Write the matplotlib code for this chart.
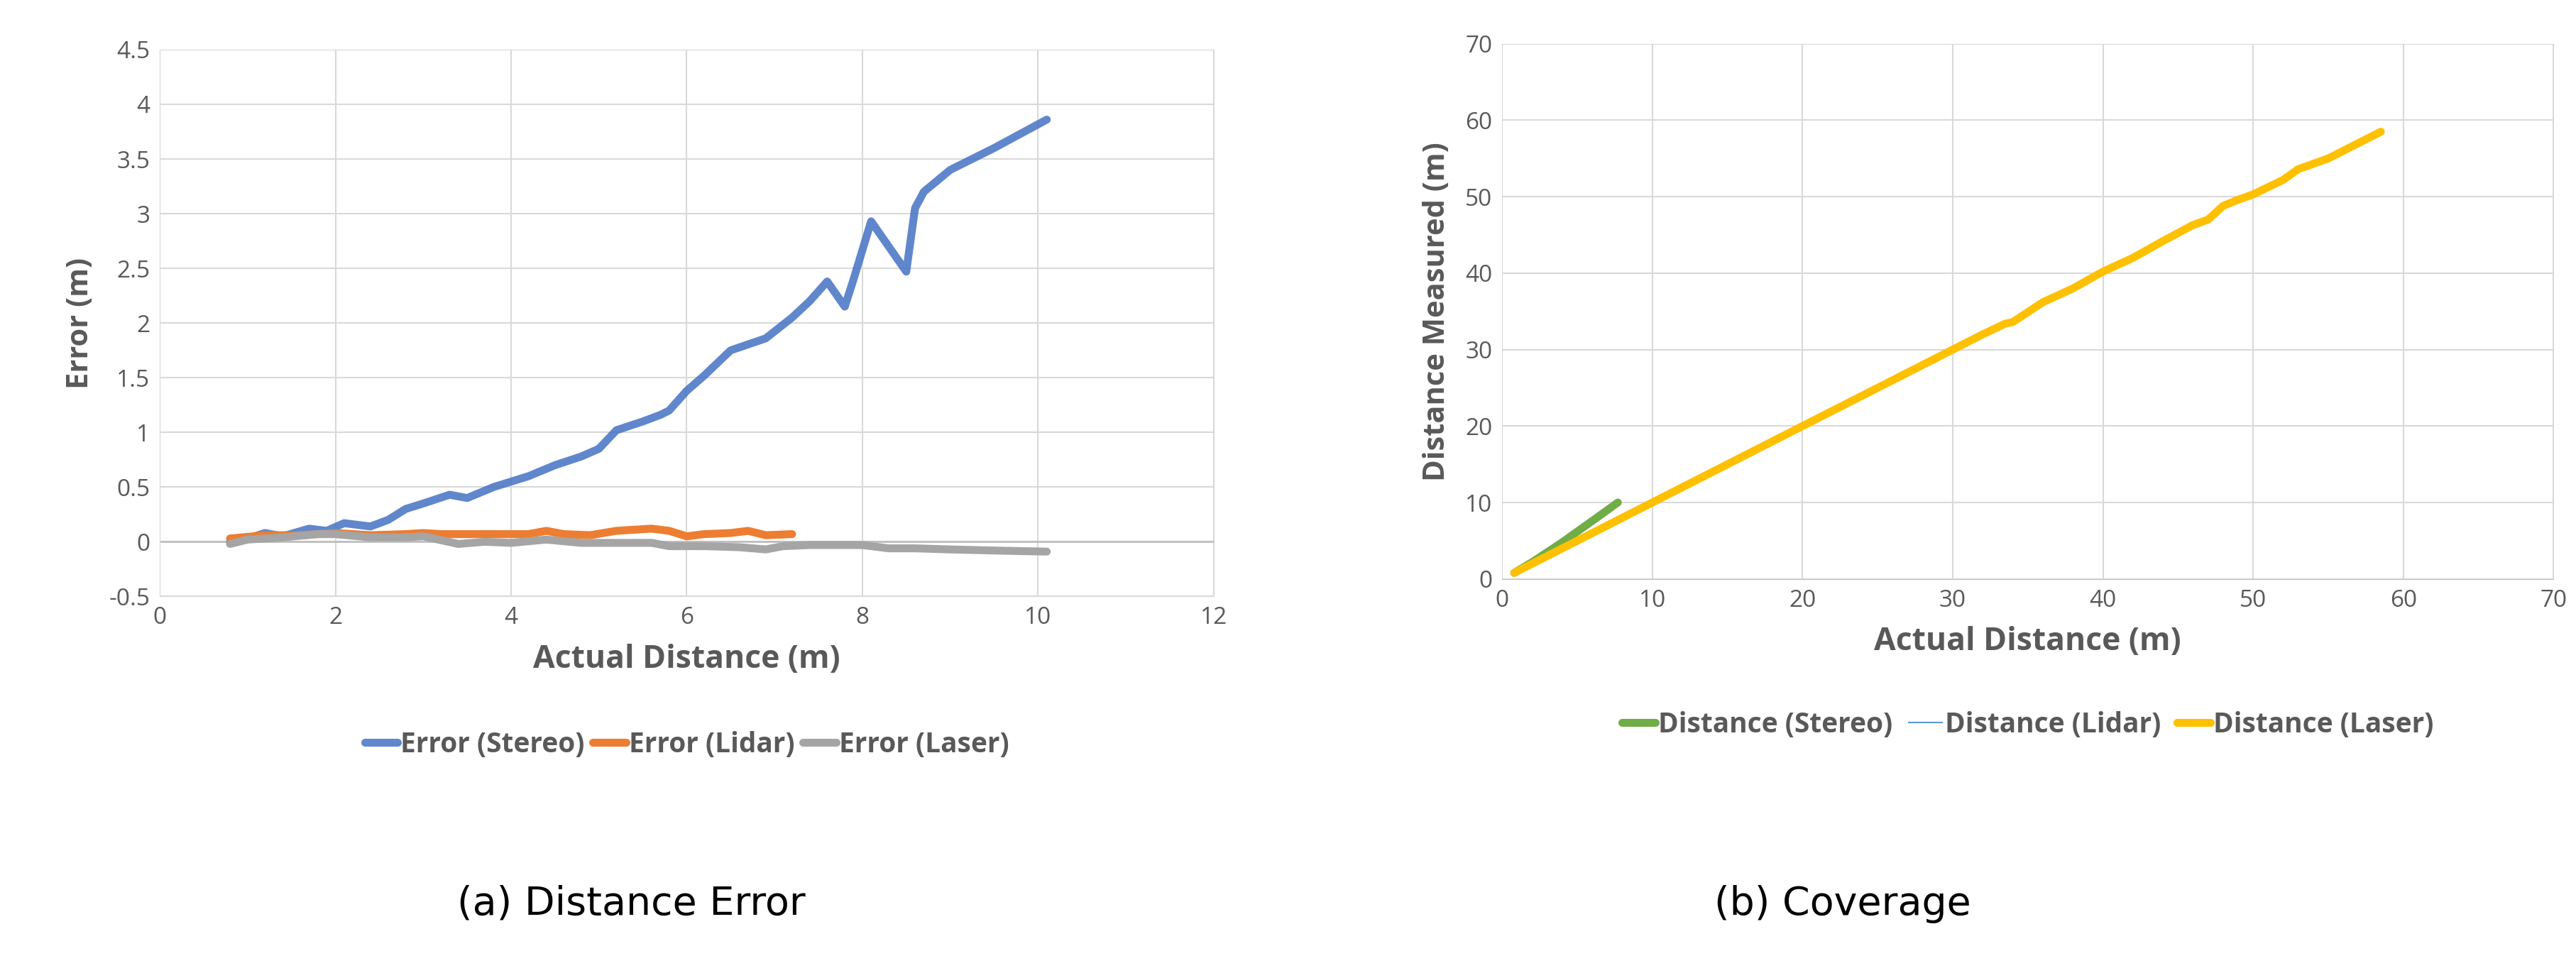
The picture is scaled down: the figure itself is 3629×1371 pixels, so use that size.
import matplotlib.pyplot as plt
import numpy as np

# error chart (a)
stereo_x = [0.8, 1.0, 1.2, 1.4, 1.7, 1.9, 2.1, 2.4, 2.6, 2.8, 3.0, 3.3, 3.5, 3.8, 4.0, 4.2, 4.5, 4.8, 5.0, 5.2, 5.5, 5.7, 5.8, 6.0, 6.2, 6.5, 6.9, 7.2, 7.4, 7.6, 7.8, 7.9, 8.1, 8.3, 8.5, 8.6, 8.7, 9.0, 9.5, 10.1]
stereo_y = [0.0, 0.03, 0.08, 0.05, 0.12, 0.1, 0.17, 0.14, 0.2, 0.3, 0.35, 0.43, 0.4, 0.5, 0.55, 0.6, 0.7, 0.78, 0.85, 1.02, 1.1, 1.16, 1.2, 1.38, 1.52, 1.75, 1.86, 2.05, 2.2, 2.38, 2.15, 2.4, 2.93, 2.7, 2.47, 3.05, 3.2, 3.4, 3.6, 3.86]
lidar_x = [0.8, 1.2, 1.6, 2.0, 2.4, 2.8, 3.0, 3.2, 3.6, 4.0, 4.2, 4.4, 4.6, 4.9, 5.2, 5.6, 5.8, 6.0, 6.2, 6.5, 6.7, 6.9, 7.2]
lidar_y = [0.03, 0.06, 0.06, 0.08, 0.06, 0.07, 0.08, 0.07, 0.07, 0.07, 0.07, 0.1, 0.07, 0.06, 0.1, 0.12, 0.1, 0.05, 0.07, 0.08, 0.1, 0.06, 0.07]
laser_x = [0.8, 1.0, 1.4, 1.8, 2.0, 2.4, 2.8, 3.0, 3.4, 3.7, 4.0, 4.4, 4.8, 5.2, 5.6, 5.8, 6.2, 6.6, 6.9, 7.1, 7.4, 7.8, 8.0, 8.3, 8.6, 9.0, 9.5, 10.1]
laser_y = [-0.02, 0.02, 0.04, 0.07, 0.07, 0.04, 0.04, 0.05, -0.02, 0.0, -0.01, 0.02, -0.01, -0.01, -0.01, -0.04, -0.04, -0.05, -0.07, -0.04, -0.03, -0.03, -0.03, -0.06, -0.06, -0.07, -0.08, -0.09]

# coverage chart (b)
cov_stereo_x = [0.8, 2.0, 3.0, 4.0, 5.0, 6.0, 7.0, 7.7]
cov_stereo_y = [0.8, 2.2, 3.5, 4.8, 6.2, 7.6, 9.0, 10.0]
cov_laser_x = [0.8, 5, 10, 15, 20, 25, 30, 32, 33.5, 34, 36, 38, 40, 42, 44, 46, 47, 48, 49, 50, 52, 53, 55, 58.5]
cov_laser_y = [0.8, 5, 10, 15, 20, 25, 30, 32, 33.4, 33.6, 36.2, 38, 40.2, 42, 44.2, 46.3, 47, 48.8, 49.6, 50.3, 52.2, 53.6, 55, 58.5]

grey = '#595959'
plt.rcParams['font.family'] = ['Open Sans', 'DejaVu Sans']
fig = plt.figure(figsize=(36.3, 13.71), dpi=100)

def style(ax, xlabel, ylabel):
    ax.grid(True, color='#d9d9d9', lw=1.5)
    ax.set_axisbelow(True)
    for s in ax.spines.values():
        s.set_color('#d9d9d9')
    ax.tick_params(length=0, labelsize=24, colors=grey, pad=10)
    ax.set_xlabel(xlabel, fontsize=32, color=grey, fontweight='bold', labelpad=14)
    ax.set_ylabel(ylabel, fontsize=30, color=grey, fontweight='bold', labelpad=14)

ax1 = fig.add_axes([0.062, 0.387, 0.409, 0.562])
ax1.axhline(0, color='#bfbfbf', lw=2)
ax1.plot(stereo_x, stereo_y, color='#4472c4', lw=8, alpha=0.85, solid_capstyle='round', label='Error (Stereo)')
ax1.plot(lidar_x, lidar_y, color='#ed7d31', lw=8, solid_capstyle='round', label='Error (Lidar)')
ax1.plot(laser_x, laser_y, color='#a5a5a5', lw=8, solid_capstyle='round', label='Error (Laser)')
ax1.set_xlim(0, 12)
ax1.set_ylim(-0.5, 4.5)
ax1.set_xticks(range(0, 13, 2))
ax1.set_yticks(np.arange(-0.5, 4.51, 0.5))
ax1.set_yticklabels(['-0.5', '0', '0.5', '1', '1.5', '2', '2.5', '3', '3.5', '4', '4.5'])
style(ax1, 'Actual Distance (m)', 'Error (m)')
ax1.legend(loc='upper center', bbox_to_anchor=(0.5, -0.2), ncol=3, frameon=False,
           handlelength=1.2, handletextpad=0.1, columnspacing=0.3, labelcolor=grey,
           prop={'weight': 'bold', 'size': 28})

ax2 = fig.add_axes([0.583, 0.405, 0.408, 0.55])
ax2.plot(cov_stereo_x, cov_stereo_y, color='#70ad47', lw=8, solid_capstyle='round', label='Distance (Stereo)')
ax2.plot([], [], color='#5b9bd5', lw=1.5, label='Distance (Lidar)')
ax2.plot(cov_laser_x, cov_laser_y, color='#ffc000', lw=8, solid_capstyle='round', label='Distance (Laser)')
ax2.set_xlim(0, 70)
ax2.set_ylim(0, 70)
ax2.set_xticks(range(0, 71, 10))
ax2.set_yticks(range(0, 71, 10))
style(ax2, 'Actual Distance (m)', 'Distance Measured (m)')
ax2.spines['bottom'].set_color('#bfbfbf')
ax2.legend(loc='upper center', bbox_to_anchor=(0.5, -0.2), ncol=3, frameon=False,
           handlelength=1.2, handletextpad=0.1, columnspacing=0.6, labelcolor=grey,
           prop={'weight': 'bold', 'size': 28})

fig.text(0.245, 0.06, '(a) Distance Error', fontsize=40, ha='center', family='DejaVu Sans')
fig.text(0.715, 0.06, '(b) Coverage', fontsize=40, ha='center', family='DejaVu Sans')

fig.savefig('out.png')
